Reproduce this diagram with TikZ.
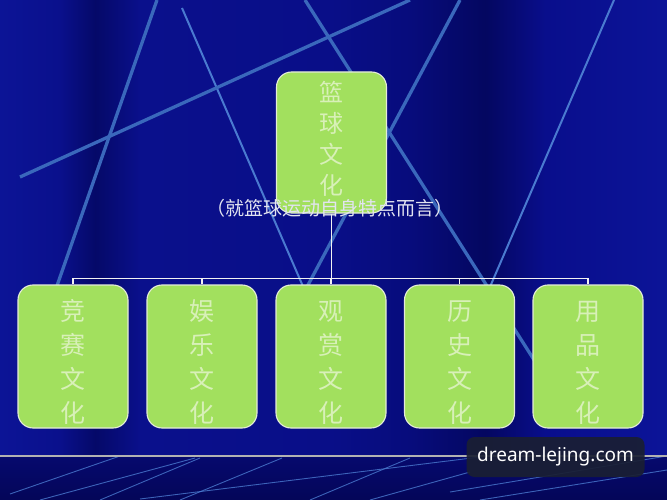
\documentclass[tikz,border=0pt]{standalone}
\usepackage{fontspec}
\newfontfamily\cjk{Noto Sans CJK SC}
\newfontfamily\wmfont{Noto Sans}
\definecolor{boxgreen}{HTML}{A2E05E}
\definecolor{boxedge}{HTML}{E4ECD8}
\definecolor{boxtext}{HTML}{D8F0B8}
\definecolor{bgline}{HTML}{3A68BC}
\definecolor{bgline2}{HTML}{4A7AD0}
\definecolor{subtext}{HTML}{E2E4F0}
\definecolor{wmfill}{HTML}{1A1F33}
\begin{document}
\begin{tikzpicture}[x=1pt,y=-1pt,
  nodebox/.style={draw=boxedge, line width=1.1pt, fill=boxgreen, rounded corners=15pt,
    minimum width=110pt, inner sep=0pt, text=boxtext, align=center},
  topbox/.style={nodebox, minimum height=141pt, text height=103pt, text depth=0pt,
    font=\cjk\fontsize{24}{31}\selectfont},
  leafbox/.style={nodebox, minimum height=143pt, text height=132pt, text depth=0pt,
    font=\cjk\fontsize{25}{34}\selectfont},
  conn/.style={draw=white!90!gray, line width=1.3pt},
  subnote/.style={text=subtext, font=\cjk\fontsize{19}{22}\selectfont, inner sep=0pt},
  bgstroke/.style={draw=bgline, line width=3.3pt},
  bgthin/.style={draw=bgline2, line width=2pt},
  floorline/.style={draw=bgline2, draw opacity=0.8, line width=0.9pt},
  wmbox/.style={fill=wmfill, fill opacity=0.92, text opacity=1, rounded corners=8pt,
    minimum width=178pt, minimum height=40pt, inner sep=0pt, text=white,
    font=\wmfont\fontsize{19}{23}\selectfont}]
\useasboundingbox (0,0) rectangle (667,500);
% background bands
\shade[left color={rgb,255:red,12;green,20;blue,150}, right color={rgb,255:red,10;green,16;blue,140}] (0,0) rectangle (60.5,456);
\shade[left color={rgb,255:red,10;green,16;blue,140}, right color={rgb,255:red,5;green,9;blue,104}] (60,0) rectangle (95.5,456);
\shade[left color={rgb,255:red,5;green,9;blue,104}, right color={rgb,255:red,10;green,16;blue,140}] (95,0) rectangle (140.5,456);
\shade[left color={rgb,255:red,10;green,16;blue,140}, right color={rgb,255:red,9;green,14;blue,136}] (140,0) rectangle (330.5,456);
\shade[left color={rgb,255:red,9;green,14;blue,136}, right color={rgb,255:red,7;green,12;blue,124}] (330,0) rectangle (410.5,456);
\shade[left color={rgb,255:red,7;green,12;blue,124}, right color={rgb,255:red,4;green,7;blue,96}] (410,0) rectangle (485.5,456);
\shade[left color={rgb,255:red,4;green,7;blue,96}, right color={rgb,255:red,9;green,14;blue,140}] (485,0) rectangle (545.5,456);
\shade[left color={rgb,255:red,9;green,14;blue,140}, right color={rgb,255:red,12;green,20;blue,152}] (545,0) rectangle (667,456);
\shade[top color={rgb,255:red,6;green,9;blue,110}, bottom color={rgb,255:red,4;green,6;blue,88}] (0,456) rectangle (667,500);
% background strokes
\draw[bgstroke] (157,0) -- (45,320);
\draw[bgthin] (182,8) -- (335,360);
\draw[bgstroke] (20,177) -- (410,0);
\draw[bgstroke] (305,0) -- (550,385);
\draw[bgstroke] (460,0) -- (300,300);
\draw[bgthin] (614,0) -- (480,310);
% floor strokes
\draw[floorline] (10,494) -- (120,456);
\draw[floorline] (40,500) -- (195,458);
\draw[floorline] (100,500) -- (200,458);
\draw[floorline] (180,500) -- (282,458);
\draw[floorline] (140,499) -- (480,457);
\draw[floorline] (310,500) -- (410,458);
\draw[floorline] (370,500) -- (470,472);
\draw[floorline] (450,492) -- (667,456);
\draw[floorline] (480,500) -- (667,470);
\draw[draw=gray!60!white, line width=1.2pt] (0,456) -- (667,456);
% nodes
\node[topbox] (top) at (331.5,142.5) {篮\\球\\文\\化};
\node[leafbox] (b1) at (73,356.5) {竞\\赛\\文\\化};
\node[leafbox] (b2) at (202,356.5) {娱\\乐\\文\\化};
\node[leafbox] (b3) at (331,356.5) {观\\赏\\文\\化};
\node[leafbox] (b4) at (459.5,356.5) {历\\史\\文\\化};
\node[leafbox] (b5) at (588,356.5) {用\\品\\文\\化};
% connectors
\draw[conn] (top.south) -- ++(0,65) coordinate (j);
\foreach \i in {1,...,5} \draw[conn] (j) -| (b\i.north);
\node[subnote] (sub) at (330,208) {（就篮球运动自身特点而言）};
\node[wmbox] (wm) at (555.5,457) {dream-lejing.com};
\end{tikzpicture}
\end{document}
